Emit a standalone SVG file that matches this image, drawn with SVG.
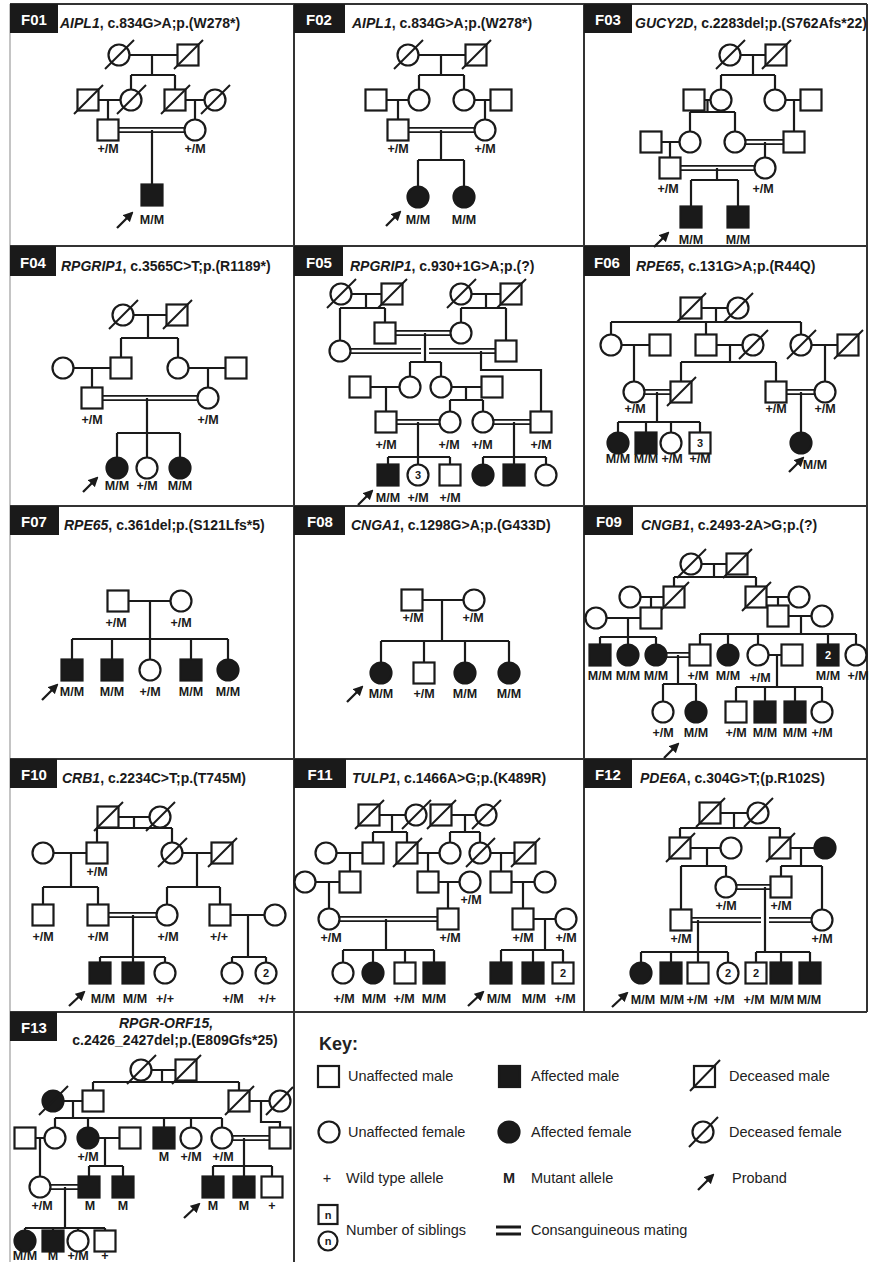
<svg xmlns="http://www.w3.org/2000/svg" width="869" height="1262" viewBox="0 0 869 1262">
<defs>
<style>
.bg{fill:#fff}
.fr{stroke:#333;stroke-width:2;fill:none}
.fl{stroke:#b0b0b0;stroke-width:1.5;fill:none}
.hb{fill:#1a1a1a}
.ht{font-family:"Liberation Sans",Arial,sans-serif;font-weight:bold;font-size:15px;fill:#fff;text-anchor:middle}
.ti{font-family:"Liberation Sans",Arial,sans-serif;font-weight:bold;font-size:14px;fill:#1a1a1a}
.c{fill:none;stroke:#1a1a1a;stroke-width:2.2}
.d{fill:none;stroke:#1a1a1a;stroke-width:1.8}
.n{fill:#fff;stroke:#1a1a1a;stroke-width:2.2}
.a{fill:#1a1a1a;stroke:#1a1a1a;stroke-width:2.2}
.sl{stroke:#1a1a1a;stroke-width:2;fill:none}
.lb{font-family:"Liberation Sans",Arial,sans-serif;font-weight:bold;font-size:12.5px;fill:#1a1a1a;text-anchor:middle}
.nm{font-family:"Liberation Sans",Arial,sans-serif;font-weight:bold;font-size:11px;fill:#1a1a1a;text-anchor:middle}
.nw{font-family:"Liberation Sans",Arial,sans-serif;font-weight:bold;font-size:11px;fill:#fff;text-anchor:middle}
.ar{stroke:#1a1a1a;stroke-width:2.3;fill:none;marker-end:url(#ah)}
.kt{font-family:"Liberation Sans",Arial,sans-serif;font-size:14.5px;fill:#222}
.kb{font-family:"Liberation Sans",Arial,sans-serif;font-weight:bold;font-size:18px;fill:#222}
</style>
<marker id="ah" viewBox="0 0 10 10" refX="8" refY="5" markerWidth="10" markerHeight="10" markerUnits="userSpaceOnUse" orient="auto"><path d="M0,0L10,5L0,10z" fill="#1a1a1a"/></marker>
</defs>
<rect class="bg" x="0" y="0" width="869" height="1262"/>
<g id="frame">
<path class="fl" d="M10,4V1262"/>
<path class="fr" d="M10,4H867M10,246H867M10,506H867M10,759H867M10,1012H867M294,4V1262M584,4V1012M867,4V1012"/>
</g>
<g id="headers">
<rect class="hb" x="10" y="4" width="48" height="29"/><text class="ht" x="34" y="25">F01</text>
<text class="ti" x="60" y="28"><tspan font-style="italic">AIPL1</tspan>, c.834G&gt;A;p.(W278*)</text>
<rect class="hb" x="294" y="4" width="51" height="29"/><text class="ht" x="319" y="25">F02</text>
<text class="ti" x="352" y="28"><tspan font-style="italic">AIPL1</tspan>, c.834G&gt;A;p.(W278*)</text>
<rect class="hb" x="584" y="4" width="48" height="29"/><text class="ht" x="608" y="25">F03</text>
<text class="ti" x="635" y="28"><tspan font-style="italic">GUCY2D</tspan>, c.2283del;p.(S762Afs*22)</text>
<rect class="hb" x="10" y="246" width="46" height="30"/><text class="ht" x="33" y="268">F04</text>
<text class="ti" x="61" y="271"><tspan font-style="italic">RPGRIP1</tspan>, c.3565C&gt;T;p.(R1189*)</text>
<rect class="hb" x="294" y="246" width="49" height="30"/><text class="ht" x="319" y="268">F05</text>
<text class="ti" x="350" y="271"><tspan font-style="italic">RPGRIP1</tspan>, c.930+1G&gt;A;p.(?)</text>
<rect class="hb" x="584" y="246" width="46" height="30"/><text class="ht" x="607" y="268">F06</text>
<text class="ti" x="636" y="271"><tspan font-style="italic">RPE65</tspan>, c.131G&gt;A;p.(R44Q)</text>
<rect class="hb" x="10" y="506" width="49" height="29"/><text class="ht" x="34" y="527">F07</text>
<text class="ti" x="64" y="530"><tspan font-style="italic">RPE65</tspan>, c.361del;p.(S121Lfs*5)</text>
<rect class="hb" x="294" y="506" width="51" height="29"/><text class="ht" x="320" y="527">F08</text>
<text class="ti" x="351" y="530"><tspan font-style="italic">CNGA1</tspan>, c.1298G&gt;A;p.(G433D)</text>
<rect class="hb" x="584" y="506" width="49" height="29"/><text class="ht" x="609" y="527">F09</text>
<text class="ti" x="641" y="530"><tspan font-style="italic">CNGB1</tspan>, c.2493-2A&gt;G;p.(?)</text>
<rect class="hb" x="10" y="759" width="47" height="29"/><text class="ht" x="34" y="780">F10</text>
<text class="ti" x="62" y="783"><tspan font-style="italic">CRB1</tspan>, c.2234C&gt;T;p.(T745M)</text>
<rect class="hb" x="294" y="759" width="52" height="29"/><text class="ht" x="320" y="780">F11</text>
<text class="ti" x="352" y="783"><tspan font-style="italic">TULP1</tspan>, c.1466A&gt;G;p.(K489R)</text>
<rect class="hb" x="584" y="759" width="48" height="29"/><text class="ht" x="608" y="780">F12</text>
<text class="ti" x="640" y="783"><tspan font-style="italic">PDE6A</tspan>, c.304G&gt;T;(p.R102S)</text>
<rect class="hb" x="10" y="1012" width="47" height="29"/><text class="ht" x="34" y="1033">F13</text>
<text class="ti" x="166" y="1028" text-anchor="middle" font-style="italic">RPGR-ORF15,</text>
<text class="ti" x="175" y="1045" text-anchor="middle">c.2426_2427del;p.(E809Gfs*25)</text>
</g>
<g id="connectors">
<path class="c" d="M119,55H188M152,55V75M131,75H175M131,75V100M175,75V100M88,100H131M108,100V130M175,100H215M195,100V130M152,130V195"/>
<path class="d" d="M108,127.8H195M108,132.2H195"/>
<path class="c" d="M408,55H476M441,55V75M419,75H464M419,75V100M464,75V100M376,100H419M398,100V130M464,100H501M485,100V130M441,130V160M418,160H464M418,160V197M464,160V197"/>
<path class="d" d="M398,127.8H485M398,132.2H485"/>
<path class="c" d="M730,55H776M753,55V75M721,75H775M721,75V100M775,75V100M694,100H721M707.5,100V112M690,112H735M690,112V142M735,112V142M775,100H811M794,100V142M651,142H690M670,142V168M765,142V168M717,168V180M691,180H738M691,180V217M738,180V217"/>
<path class="d" d="M735,139.8H794M735,144.2H794M670,165.8H765M670,170.2H765"/>
<path class="c" d="M123,315H177M148,315V338M121,338H178M121,338V368M178,338V368M63,368H121M92,368V398M178,368H236M208,368V398M147,398V433M117,433H180M117,433V468M147,433V468M180,433V468"/>
<path class="d" d="M92,395.8H208M92,400.2H208"/>
<path class="c" d="M341,294H392M366,294V308M340,308H385M340,308V351M385,308V333M461,294H511M486,294V308M461,308H506M461,308V333M506,308V351M425,333V362M410,362H441M410,362V387M441,362V387M481,351V370H541V422M360,387H410M386,387V422M441,387H492M466,387V400M450,400H483M450,400V422M483,400V422M418,422V457M388,457H450M388,457V475M418,457V475M450,457V475M514,422V457M483,457H546M483,457V475M514,457V475M546,457V475"/>
<path class="d" d="M385,330.8H461M385,335.2H461M340,348.8H421M429,348.8H506M340,353.2H421M429,353.2H506M386,419.8H450M386,424.2H450M483,419.8H541M483,424.2H541"/>
<path class="c" d="M691,308H738M716,308V322M611,322H801M611,322V345M706,322V345M801,322V345M611,345H660M634,345V392M706,345H753M730,345V362M681,362H776M681,362V392M776,362V392M801,345H848M825,345V392M657,392V422M618,422H700M618,422V443M646,422V443M671,422V443M700,422V443M801,392V443"/>
<path class="d" d="M634,389.8H681M634,394.2H681M776,389.8H825M776,394.2H825"/>
<path class="c" d="M118,601H181M150,601V639M72,639H228M72,639V670M112,639V670M150,639V670M191,639V670M228,639V670"/>
<path class="c" d="M412,600H474M442,600V641M381,641H509M381,641V673M424,641V673M465,641V673M509,641V673"/>
<path class="c" d="M691,564H737M714,564V577M674,577H756M674,577V597M756,577V597M630,597H674M651,597V618M756,597H799M778,597V616M596,618H651M628,618V637M600,637H656M600,637V655M628,637V655M656,637V655M778,616H822M801,616V634M700,634H856M700,634V655M728,634V655M758,634V655M828,634V655M856,634V655M678,655V684M663,684H696M663,684V712M696,684V712M758,655H792M777,655V687M736,687H822M736,687V712M765,687V712M795,687V712M822,687V712"/>
<path class="d" d="M656,652.8H700M656,657.2H700"/>
<path class="c" d="M108,817H160M134,817V828M97,828H172M97,828V853M172,828V853M43,853H97M71,853V887M43,887H98M43,887V915M98,887V915M172,853H222M197,853V887M167,887H220M167,887V915M220,887V915M133,915V957M100,957H165M100,957V973M133,957V973M165,957V973M220,915H275M248,915V957M232,957H266M232,957V973M266,957V973"/>
<path class="d" d="M98,912.8H167M98,917.2H167"/>
<path class="c" d="M369,815H416M392,815V832M373,832H407M373,832V853M407,832V853M441,815H486M465,815V832M450,832H480M450,832V853M480,832V853M326,853H373M350,853V882M407,853H450M428,853V882M480,853H525M501,853V882M305,882H350M329,882V919M428,882H470M448,882V919M501,882H545M523,882V919M386,919V950M343,950H434M343,950V973M373,950V973M405,950V973M434,950V973M523,919H566M545,919V950M501,950H563M501,950V973M533,950V973M563,950V973"/>
<path class="d" d="M329,916.8H448M329,921.2H448"/>
<path class="c" d="M710,813H758M734,813V828M680,828H780M680,828V848M780,828V848M680,848H731M707,848V866M681,866H726M681,866V920M726,866V887M780,848H825M801,848V866M781,866H822M781,866V887M822,866V920M765,887V952M756,952H810M756,952V973M781,952V973M810,952V973M698,920V952M641,952H728M641,952V973M671,952V973M698,952V973M728,952V973"/>
<path class="d" d="M726,884.8H781M726,889.2H781M681,917.8H761M769,917.8H822M681,922.2H761M769,922.2H822"/>
<path class="c" d="M141,1070H186M162,1070V1082M93,1082H239M93,1082V1101M239,1082V1101M53,1101H93M73,1101V1118M55,1118H222M55,1118V1138M88,1118V1138M164,1118V1138M191,1118V1138M222,1118V1138M239,1101H280M261,1101V1122H280V1138M25,1138H55M40,1138V1187M88,1138H130M105,1138V1166M89,1166H123M89,1166V1187M123,1166V1187M244,1138V1166M213,1166H272M213,1166V1187M244,1166V1187M272,1166V1187M65,1187V1228M25,1228H105M25,1228V1241M53,1228V1241M78,1228V1241M105,1228V1241"/>
<path class="d" d="M222,1135.8H280M222,1140.2H280M40,1184.8H89M40,1189.2H89"/>
<path class="ar" d="M117,228L132,213"/>
<path class="ar" d="M386,226L400,212"/>
<path class="ar" d="M654,247L668,233"/>
<path class="ar" d="M83,492L97,478"/>
<path class="ar" d="M358,505L372,491"/>
<path class="ar" d="M789,472L803,458"/>
<path class="ar" d="M42,700L57,685"/>
<path class="ar" d="M347,702L362,687"/>
<path class="ar" d="M664,758L678,744"/>
<path class="ar" d="M69,1006L84,992"/>
<path class="ar" d="M468,1006L483,992"/>
<path class="ar" d="M612,1007L627,993"/>
<path class="ar" d="M184,1218L199,1204"/>
</g>
<g id="F01">
<g id="F01-I1"><circle class="n" cx="119" cy="55" r="10.5"/><path class="sl" d="M105,69L134,40"/></g>
<g id="F01-I2"><rect class="n" x="177.5" y="44.5" width="21" height="21"/><path class="sl" d="M174,69L203,40"/></g>
<g id="F01-II1"><rect class="n" x="77.5" y="89.5" width="21" height="21"/><path class="sl" d="M74,114L103,85"/></g>
<g id="F01-II2"><circle class="n" cx="131" cy="100" r="10.5"/><path class="sl" d="M117,114L146,85"/></g>
<g id="F01-II3"><rect class="n" x="164.5" y="89.5" width="21" height="21"/><path class="sl" d="M161,114L190,85"/></g>
<g id="F01-II4"><circle class="n" cx="215" cy="100" r="10.5"/><path class="sl" d="M201,114L230,85"/></g>
<g id="F01-III1"><rect class="n" x="97.5" y="119.5" width="21" height="21"/><text class="lb" x="108" y="153">+/M</text></g>
<g id="F01-III2"><circle class="n" cx="195" cy="130" r="10.5"/><text class="lb" x="195" y="153">+/M</text></g>
<g id="F01-IV1"><rect class="a" x="141.5" y="184.5" width="21" height="21"/><text class="lb" x="152" y="224">M/M</text></g>
</g>
<g id="F02">
<g id="F02-I1"><circle class="n" cx="408" cy="55" r="10.5"/><path class="sl" d="M394,69L423,40"/></g>
<g id="F02-I2"><rect class="n" x="465.5" y="44.5" width="21" height="21"/><path class="sl" d="M462,69L491,40"/></g>
<g id="F02-II1"><rect class="n" x="365.5" y="89.5" width="21" height="21"/></g>
<g id="F02-II2"><circle class="n" cx="419" cy="100" r="10.5"/></g>
<g id="F02-II3"><circle class="n" cx="464" cy="100" r="10.5"/></g>
<g id="F02-II4"><rect class="n" x="490.5" y="89.5" width="21" height="21"/></g>
<g id="F02-III1"><rect class="n" x="387.5" y="119.5" width="21" height="21"/><text class="lb" x="398" y="153">+/M</text></g>
<g id="F02-III2"><circle class="n" cx="485" cy="130" r="10.5"/><text class="lb" x="485" y="153">+/M</text></g>
<g id="F02-IV1"><circle class="a" cx="418" cy="197" r="10.5"/><text class="lb" x="418" y="224">M/M</text></g>
<g id="F02-IV2"><circle class="a" cx="464" cy="197" r="10.5"/><text class="lb" x="464" y="224">M/M</text></g>
</g>
<g id="F03">
<g id="F03-I1"><circle class="n" cx="730" cy="55" r="10.5"/><path class="sl" d="M716,69L745,40"/></g>
<g id="F03-I2"><rect class="n" x="765.5" y="44.5" width="21" height="21"/><path class="sl" d="M762,69L791,40"/></g>
<g id="F03-II1"><rect class="n" x="683.5" y="89.5" width="21" height="21"/></g>
<g id="F03-II2"><circle class="n" cx="721" cy="100" r="10.5"/></g>
<g id="F03-II3"><circle class="n" cx="775" cy="100" r="10.5"/></g>
<g id="F03-II4"><rect class="n" x="800.5" y="89.5" width="21" height="21"/></g>
<g id="F03-III1"><rect class="n" x="640.5" y="131.5" width="21" height="21"/></g>
<g id="F03-III2"><circle class="n" cx="690" cy="142" r="10.5"/></g>
<g id="F03-III3"><circle class="n" cx="735" cy="142" r="10.5"/></g>
<g id="F03-III4"><rect class="n" x="783.5" y="131.5" width="21" height="21"/></g>
<g id="F03-IV1"><rect class="n" x="659.5" y="157.5" width="21" height="21"/><text class="lb" x="668" y="193">+/M</text></g>
<g id="F03-IV2"><circle class="n" cx="765" cy="168" r="10.5"/><text class="lb" x="763" y="193">+/M</text></g>
<g id="F03-V1"><rect class="a" x="680.5" y="206.5" width="21" height="21"/><text class="lb" x="691" y="244">M/M</text></g>
<g id="F03-V2"><rect class="a" x="727.5" y="206.5" width="21" height="21"/><text class="lb" x="738" y="244">M/M</text></g>
</g>
<g id="F04">
<g id="F04-I1"><circle class="n" cx="123" cy="315" r="10.5"/><path class="sl" d="M109,329L138,300"/></g>
<g id="F04-I2"><rect class="n" x="166.5" y="304.5" width="21" height="21"/><path class="sl" d="M163,329L192,300"/></g>
<g id="F04-II1"><circle class="n" cx="63" cy="368" r="10.5"/></g>
<g id="F04-II2"><rect class="n" x="110.5" y="357.5" width="21" height="21"/></g>
<g id="F04-II3"><circle class="n" cx="178" cy="368" r="10.5"/></g>
<g id="F04-II4"><rect class="n" x="225.5" y="357.5" width="21" height="21"/></g>
<g id="F04-III1"><rect class="n" x="81.5" y="387.5" width="21" height="21"/><text class="lb" x="92" y="424">+/M</text></g>
<g id="F04-III2"><circle class="n" cx="208" cy="398" r="10.5"/><text class="lb" x="208" y="424">+/M</text></g>
<g id="F04-IV1"><circle class="a" cx="117" cy="468" r="10.5"/><text class="lb" x="117" y="490">M/M</text></g>
<g id="F04-IV2"><circle class="n" cx="147" cy="468" r="10.5"/><text class="lb" x="147" y="490">+/M</text></g>
<g id="F04-IV3"><circle class="a" cx="180" cy="468" r="10.5"/><text class="lb" x="180" y="490">M/M</text></g>
</g>
<g id="F05">
<g id="F05-I1"><circle class="n" cx="341" cy="294" r="10.5"/><path class="sl" d="M327,308L356,279"/></g>
<g id="F05-I2"><rect class="n" x="381.5" y="283.5" width="21" height="21"/><path class="sl" d="M378,308L407,279"/></g>
<g id="F05-I3"><circle class="n" cx="461" cy="294" r="10.5"/><path class="sl" d="M447,308L476,279"/></g>
<g id="F05-I4"><rect class="n" x="500.5" y="283.5" width="21" height="21"/><path class="sl" d="M497,308L526,279"/></g>
<g id="F05-II1"><rect class="n" x="374.5" y="322.5" width="21" height="21"/></g>
<g id="F05-II2"><circle class="n" cx="461" cy="333" r="10.5"/></g>
<g id="F05-II3"><circle class="n" cx="340" cy="351" r="10.5"/></g>
<g id="F05-II4"><rect class="n" x="495.5" y="340.5" width="21" height="21"/></g>
<g id="F05-III1"><rect class="n" x="349.5" y="376.5" width="21" height="21"/></g>
<g id="F05-III2"><circle class="n" cx="410" cy="387" r="10.5"/></g>
<g id="F05-III3"><circle class="n" cx="441" cy="387" r="10.5"/></g>
<g id="F05-III4"><rect class="n" x="481.5" y="376.5" width="21" height="21"/></g>
<g id="F05-IV1"><rect class="n" x="375.5" y="411.5" width="21" height="21"/><text class="lb" x="386" y="449">+/M</text></g>
<g id="F05-IV2"><circle class="n" cx="450" cy="422" r="10.5"/><text class="lb" x="449" y="449">+/M</text></g>
<g id="F05-IV3"><circle class="n" cx="483" cy="422" r="10.5"/><text class="lb" x="482" y="449">+/M</text></g>
<g id="F05-IV4"><rect class="n" x="530.5" y="411.5" width="21" height="21"/><text class="lb" x="541" y="449">+/M</text></g>
<g id="F05-V1"><rect class="a" x="377.5" y="464.5" width="21" height="21"/><text class="lb" x="388" y="502">M/M</text></g>
<g id="F05-V2"><circle class="n" cx="418" cy="475" r="10.5"/><text class="nm" x="418" y="479">3</text><text class="lb" x="418" y="502">+/M</text></g>
<g id="F05-V3"><rect class="n" x="439.5" y="464.5" width="21" height="21"/><text class="lb" x="450" y="502">+/M</text></g>
<g id="F05-V4"><circle class="a" cx="483" cy="475" r="10.5"/></g>
<g id="F05-V5"><rect class="a" x="503.5" y="464.5" width="21" height="21"/></g>
<g id="F05-V6"><circle class="n" cx="546" cy="475" r="10.5"/></g>
</g>
<g id="F06">
<g id="F06-I1"><rect class="n" x="680.5" y="297.5" width="21" height="21"/><path class="sl" d="M677,322L706,293"/></g>
<g id="F06-I2"><circle class="n" cx="738" cy="308" r="10.5"/><path class="sl" d="M724,322L753,293"/></g>
<g id="F06-II1"><circle class="n" cx="611" cy="345" r="10.5"/></g>
<g id="F06-II2"><rect class="n" x="649.5" y="334.5" width="21" height="21"/></g>
<g id="F06-II3"><rect class="n" x="695.5" y="334.5" width="21" height="21"/></g>
<g id="F06-II4"><circle class="n" cx="753" cy="345" r="10.5"/><path class="sl" d="M739,359L768,330"/></g>
<g id="F06-II5"><circle class="n" cx="801" cy="345" r="10.5"/><path class="sl" d="M787,359L816,330"/></g>
<g id="F06-II6"><rect class="n" x="837.5" y="334.5" width="21" height="21"/><path class="sl" d="M834,359L863,330"/></g>
<g id="F06-III1"><circle class="n" cx="634" cy="392" r="10.5"/><text class="lb" x="635" y="413">+/M</text></g>
<g id="F06-III2"><rect class="n" x="670.5" y="381.5" width="21" height="21"/><path class="sl" d="M667,406L696,377"/></g>
<g id="F06-III3"><rect class="n" x="765.5" y="381.5" width="21" height="21"/><text class="lb" x="776" y="413">+/M</text></g>
<g id="F06-III4"><circle class="n" cx="825" cy="392" r="10.5"/><text class="lb" x="825" y="413">+/M</text></g>
<g id="F06-IV1"><circle class="a" cx="618" cy="443" r="10.5"/><text class="lb" x="618" y="463">M/M</text></g>
<g id="F06-IV2"><rect class="a" x="635.5" y="432.5" width="21" height="21"/><text class="lb" x="646" y="463">M/M</text></g>
<g id="F06-IV3"><circle class="n" cx="671" cy="443" r="10.5"/><text class="lb" x="672" y="463">+/M</text></g>
<g id="F06-IV4"><rect class="n" x="689.5" y="432.5" width="21" height="21"/><text class="nm" x="700" y="447">3</text><text class="lb" x="700" y="463">+/M</text></g>
<g id="F06-IV5"><circle class="a" cx="801" cy="443" r="10.5"/><text class="lb" x="815" y="469">M/M</text></g>
</g>
<g id="F07">
<g id="F07-I1"><rect class="n" x="107.5" y="590.5" width="21" height="21"/><text class="lb" x="116" y="627">+/M</text></g>
<g id="F07-I2"><circle class="n" cx="181" cy="601" r="10.5"/><text class="lb" x="181" y="627">+/M</text></g>
<g id="F07-II1"><rect class="a" x="61.5" y="659.5" width="21" height="21"/><text class="lb" x="72" y="696">M/M</text></g>
<g id="F07-II2"><rect class="a" x="101.5" y="659.5" width="21" height="21"/><text class="lb" x="112" y="696">M/M</text></g>
<g id="F07-II3"><circle class="n" cx="150" cy="670" r="10.5"/><text class="lb" x="150" y="696">+/M</text></g>
<g id="F07-II4"><rect class="a" x="180.5" y="659.5" width="21" height="21"/><text class="lb" x="191" y="696">M/M</text></g>
<g id="F07-II5"><circle class="a" cx="228" cy="670" r="10.5"/><text class="lb" x="228" y="696">M/M</text></g>
</g>
<g id="F08">
<g id="F08-I1"><rect class="n" x="401.5" y="589.5" width="21" height="21"/><text class="lb" x="413" y="622">+/M</text></g>
<g id="F08-I2"><circle class="n" cx="474" cy="600" r="10.5"/><text class="lb" x="473" y="622">+/M</text></g>
<g id="F08-II1"><circle class="a" cx="381" cy="673" r="10.5"/><text class="lb" x="381" y="698">M/M</text></g>
<g id="F08-II2"><rect class="n" x="413.5" y="662.5" width="21" height="21"/><text class="lb" x="424" y="698">+/M</text></g>
<g id="F08-II3"><circle class="a" cx="465" cy="673" r="10.5"/><text class="lb" x="465" y="698">M/M</text></g>
<g id="F08-II4"><circle class="a" cx="509" cy="673" r="10.5"/><text class="lb" x="509" y="698">M/M</text></g>
</g>
<g id="F09">
<g id="F09-I1"><circle class="n" cx="691" cy="564" r="10.5"/><path class="sl" d="M677,578L706,549"/></g>
<g id="F09-I2"><rect class="n" x="726.5" y="553.5" width="21" height="21"/><path class="sl" d="M723,578L752,549"/></g>
<g id="F09-II1"><circle class="n" cx="630" cy="597" r="10.5"/></g>
<g id="F09-II2"><rect class="n" x="663.5" y="586.5" width="21" height="21"/><path class="sl" d="M660,611L689,582"/></g>
<g id="F09-II3"><rect class="n" x="745.5" y="586.5" width="21" height="21"/><path class="sl" d="M742,611L771,582"/></g>
<g id="F09-II4"><circle class="n" cx="799" cy="597" r="10.5"/></g>
<g id="F09-III1"><circle class="n" cx="596" cy="618" r="10.5"/></g>
<g id="F09-III2"><rect class="n" x="640.5" y="607.5" width="21" height="21"/></g>
<g id="F09-III3"><rect class="n" x="767.5" y="605.5" width="21" height="21"/></g>
<g id="F09-III4"><circle class="n" cx="822" cy="616" r="10.5"/></g>
<g id="F09-IV1"><rect class="a" x="589.5" y="644.5" width="21" height="21"/><text class="lb" x="600" y="680">M/M</text></g>
<g id="F09-IV2"><circle class="a" cx="628" cy="655" r="10.5"/><text class="lb" x="628" y="680">M/M</text></g>
<g id="F09-IV3"><circle class="a" cx="656" cy="655" r="10.5"/><text class="lb" x="656" y="680">M/M</text></g>
<g id="F09-IV4"><rect class="n" x="689.5" y="644.5" width="21" height="21"/><text class="lb" x="698" y="680">+/M</text></g>
<g id="F09-IV5"><circle class="a" cx="728" cy="655" r="10.5"/><text class="lb" x="728" y="680">M/M</text></g>
<g id="F09-IV6"><circle class="n" cx="758" cy="655" r="10.5"/><text class="lb" x="760" y="682">+/M</text></g>
<g id="F09-IV7"><rect class="n" x="781.5" y="644.5" width="21" height="21"/></g>
<g id="F09-IV8"><rect class="a" x="817.5" y="644.5" width="21" height="21"/><text class="nw" x="828" y="659">2</text><text class="lb" x="828" y="680">M/M</text></g>
<g id="F09-IV9"><circle class="n" cx="856" cy="655" r="10.5"/><text class="lb" x="858" y="680">+/M</text></g>
<g id="F09-V1"><circle class="n" cx="663" cy="712" r="10.5"/><text class="lb" x="663" y="737">+/M</text></g>
<g id="F09-V2"><circle class="a" cx="696" cy="712" r="10.5"/><text class="lb" x="696" y="737">M/M</text></g>
<g id="F09-V3"><rect class="n" x="725.5" y="701.5" width="21" height="21"/><text class="lb" x="736" y="737">+/M</text></g>
<g id="F09-V4"><rect class="a" x="754.5" y="701.5" width="21" height="21"/><text class="lb" x="765" y="737">M/M</text></g>
<g id="F09-V5"><rect class="a" x="784.5" y="701.5" width="21" height="21"/><text class="lb" x="795" y="737">M/M</text></g>
<g id="F09-V6"><circle class="n" cx="822" cy="712" r="10.5"/><text class="lb" x="822" y="737">+/M</text></g>
</g>
<g id="F10">
<g id="F10-I1"><rect class="n" x="97.5" y="806.5" width="21" height="21"/><path class="sl" d="M94,831L123,802"/></g>
<g id="F10-I2"><circle class="n" cx="160" cy="817" r="10.5"/><path class="sl" d="M146,831L175,802"/></g>
<g id="F10-II1"><circle class="n" cx="43" cy="853" r="10.5"/></g>
<g id="F10-II2"><rect class="n" x="86.5" y="842.5" width="21" height="21"/><text class="lb" x="97" y="876">+/M</text></g>
<g id="F10-II3"><circle class="n" cx="172" cy="853" r="10.5"/><path class="sl" d="M158,867L187,838"/></g>
<g id="F10-II4"><rect class="n" x="211.5" y="842.5" width="21" height="21"/><path class="sl" d="M208,867L237,838"/></g>
<g id="F10-III1"><rect class="n" x="32.5" y="904.5" width="21" height="21"/><text class="lb" x="43" y="941">+/M</text></g>
<g id="F10-III2"><rect class="n" x="87.5" y="904.5" width="21" height="21"/><text class="lb" x="98" y="941">+/M</text></g>
<g id="F10-III3"><circle class="n" cx="167" cy="915" r="10.5"/><text class="lb" x="168" y="941">+/M</text></g>
<g id="F10-III4"><rect class="n" x="209.5" y="904.5" width="21" height="21"/><text class="lb" x="219" y="941">+/+</text></g>
<g id="F10-III5"><circle class="n" cx="275" cy="915" r="10.5"/></g>
<g id="F10-IV1"><rect class="a" x="89.5" y="962.5" width="21" height="21"/><text class="lb" x="103" y="1003">M/M</text></g>
<g id="F10-IV2"><rect class="a" x="122.5" y="962.5" width="21" height="21"/><text class="lb" x="135" y="1003">M/M</text></g>
<g id="F10-IV3"><circle class="n" cx="165" cy="973" r="10.5"/><text class="lb" x="165" y="1003">+/+</text></g>
<g id="F10-IV4"><circle class="n" cx="232" cy="973" r="10.5"/><text class="lb" x="233" y="1003">+/M</text></g>
<g id="F10-IV5"><circle class="n" cx="266" cy="973" r="10.5"/><text class="nm" x="266" y="977">2</text><text class="lb" x="267" y="1003">+/+</text></g>
</g>
<g id="F11">
<g id="F11-I1"><rect class="n" x="358.5" y="804.5" width="21" height="21"/><path class="sl" d="M355,829L384,800"/></g>
<g id="F11-I2"><circle class="n" cx="416" cy="815" r="10.5"/><path class="sl" d="M402,829L431,800"/></g>
<g id="F11-I3"><rect class="n" x="430.5" y="804.5" width="21" height="21"/><path class="sl" d="M427,829L456,800"/></g>
<g id="F11-I4"><circle class="n" cx="486" cy="815" r="10.5"/><path class="sl" d="M472,829L501,800"/></g>
<g id="F11-II1"><circle class="n" cx="326" cy="853" r="10.5"/></g>
<g id="F11-II2"><rect class="n" x="362.5" y="842.5" width="21" height="21"/></g>
<g id="F11-II3"><rect class="n" x="396.5" y="842.5" width="21" height="21"/><path class="sl" d="M393,867L422,838"/></g>
<g id="F11-II4"><circle class="n" cx="450" cy="853" r="10.5"/></g>
<g id="F11-II5"><circle class="n" cx="480" cy="853" r="10.5"/><path class="sl" d="M466,867L495,838"/></g>
<g id="F11-II6"><rect class="n" x="514.5" y="842.5" width="21" height="21"/><path class="sl" d="M511,867L540,838"/></g>
<g id="F11-III1"><circle class="n" cx="305" cy="882" r="10.5"/></g>
<g id="F11-III2"><rect class="n" x="339.5" y="871.5" width="21" height="21"/></g>
<g id="F11-III3"><rect class="n" x="417.5" y="871.5" width="21" height="21"/></g>
<g id="F11-III4"><circle class="n" cx="470" cy="882" r="10.5"/><text class="lb" x="471" y="904">+/M</text></g>
<g id="F11-III5"><rect class="n" x="490.5" y="871.5" width="21" height="21"/></g>
<g id="F11-III6"><circle class="n" cx="545" cy="882" r="10.5"/></g>
<g id="F11-IV1"><circle class="n" cx="329" cy="919" r="10.5"/><text class="lb" x="331" y="942">+/M</text></g>
<g id="F11-IV2"><rect class="n" x="437.5" y="908.5" width="21" height="21"/><text class="lb" x="450" y="942">+/M</text></g>
<g id="F11-IV3"><rect class="n" x="512.5" y="908.5" width="21" height="21"/><text class="lb" x="523" y="942">+/M</text></g>
<g id="F11-IV4"><circle class="n" cx="566" cy="919" r="10.5"/><text class="lb" x="566" y="942">+/M</text></g>
<g id="F11-V1"><circle class="n" cx="343" cy="973" r="10.5"/><text class="lb" x="344" y="1003">+/M</text></g>
<g id="F11-V2"><circle class="a" cx="373" cy="973" r="10.5"/><text class="lb" x="374" y="1003">M/M</text></g>
<g id="F11-V3"><rect class="n" x="394.5" y="962.5" width="21" height="21"/><text class="lb" x="404" y="1003">+/M</text></g>
<g id="F11-V4"><rect class="a" x="423.5" y="962.5" width="21" height="21"/><text class="lb" x="434" y="1003">M/M</text></g>
<g id="F11-V5"><rect class="a" x="490.5" y="962.5" width="21" height="21"/><text class="lb" x="499" y="1003">M/M</text></g>
<g id="F11-V6"><rect class="a" x="522.5" y="962.5" width="21" height="21"/><text class="lb" x="534" y="1003">M/M</text></g>
<g id="F11-V7"><rect class="n" x="552.5" y="962.5" width="21" height="21"/><text class="nm" x="563" y="977">2</text><text class="lb" x="565" y="1003">+/M</text></g>
</g>
<g id="F12">
<g id="F12-I1"><rect class="n" x="699.5" y="802.5" width="21" height="21"/><path class="sl" d="M696,827L725,798"/></g>
<g id="F12-I2"><circle class="n" cx="758" cy="813" r="10.5"/><path class="sl" d="M744,827L773,798"/></g>
<g id="F12-II1"><rect class="n" x="669.5" y="837.5" width="21" height="21"/><path class="sl" d="M666,862L695,833"/></g>
<g id="F12-II2"><circle class="n" cx="731" cy="848" r="10.5"/></g>
<g id="F12-II3"><rect class="n" x="769.5" y="837.5" width="21" height="21"/><path class="sl" d="M766,862L795,833"/></g>
<g id="F12-II4"><circle class="a" cx="825" cy="848" r="10.5"/></g>
<g id="F12-III1"><circle class="n" cx="726" cy="887" r="10.5"/><text class="lb" x="726" y="910">+/M</text></g>
<g id="F12-III2"><rect class="n" x="770.5" y="876.5" width="21" height="21"/><text class="lb" x="781" y="910">+/M</text></g>
<g id="F12-IV1"><rect class="n" x="670.5" y="909.5" width="21" height="21"/><text class="lb" x="681" y="943">+/M</text></g>
<g id="F12-IV2"><circle class="n" cx="822" cy="920" r="10.5"/><text class="lb" x="822" y="943">+/M</text></g>
<g id="F12-V1"><circle class="a" cx="641" cy="973" r="10.5"/><text class="lb" x="643" y="1004">M/M</text></g>
<g id="F12-V2"><rect class="a" x="660.5" y="962.5" width="21" height="21"/><text class="lb" x="672" y="1004">M/M</text></g>
<g id="F12-V3"><rect class="n" x="687.5" y="962.5" width="21" height="21"/><text class="lb" x="697" y="1004">+/M</text></g>
<g id="F12-V4"><circle class="n" cx="728" cy="973" r="10.5"/><text class="nm" x="728" y="977">2</text><text class="lb" x="724" y="1004">+/M</text></g>
<g id="F12-V5"><rect class="n" x="745.5" y="962.5" width="21" height="21"/><text class="nm" x="756" y="977">2</text><text class="lb" x="754" y="1004">+/M</text></g>
<g id="F12-V6"><rect class="a" x="770.5" y="962.5" width="21" height="21"/><text class="lb" x="782" y="1004">M/M</text></g>
<g id="F12-V7"><rect class="a" x="799.5" y="962.5" width="21" height="21"/><text class="lb" x="809" y="1004">M/M</text></g>
</g>
<g id="F13">
<g id="F13-I1"><circle class="n" cx="141" cy="1070" r="10.5"/><path class="sl" d="M127,1084L156,1055"/></g>
<g id="F13-I2"><rect class="n" x="175.5" y="1059.5" width="21" height="21"/><path class="sl" d="M172,1084L201,1055"/></g>
<g id="F13-II1"><circle class="a" cx="53" cy="1101" r="10.5"/><path class="sl" d="M39,1115L68,1086"/></g>
<g id="F13-II2"><rect class="n" x="82.5" y="1090.5" width="21" height="21"/></g>
<g id="F13-II3"><rect class="n" x="228.5" y="1090.5" width="21" height="21"/><path class="sl" d="M225,1115L254,1086"/></g>
<g id="F13-II4"><circle class="n" cx="280" cy="1101" r="10.5"/><path class="sl" d="M266,1115L293,1087"/></g>
<g id="F13-III1"><rect class="n" x="14.5" y="1127.5" width="21" height="21"/></g>
<g id="F13-III2"><circle class="n" cx="55" cy="1138" r="10.5"/></g>
<g id="F13-III3"><circle class="a" cx="88" cy="1138" r="10.5"/><text class="lb" x="88" y="1161">+/M</text></g>
<g id="F13-III4"><rect class="n" x="119.5" y="1127.5" width="21" height="21"/></g>
<g id="F13-III5"><rect class="a" x="153.5" y="1127.5" width="21" height="21"/><text class="lb" x="164" y="1161">M</text></g>
<g id="F13-III6"><circle class="n" cx="191" cy="1138" r="10.5"/><text class="lb" x="191" y="1161">+/M</text></g>
<g id="F13-III7"><circle class="n" cx="222" cy="1138" r="10.5"/><text class="lb" x="223" y="1161">+/M</text></g>
<g id="F13-III8"><rect class="n" x="269.5" y="1127.5" width="21" height="21"/></g>
<g id="F13-IV1"><circle class="n" cx="40" cy="1187" r="10.5"/><text class="lb" x="42" y="1210">+/M</text></g>
<g id="F13-IV2"><rect class="a" x="78.5" y="1176.5" width="21" height="21"/><text class="lb" x="90" y="1210">M</text></g>
<g id="F13-IV3"><rect class="a" x="112.5" y="1176.5" width="21" height="21"/><text class="lb" x="123" y="1210">M</text></g>
<g id="F13-IV4"><rect class="a" x="202.5" y="1176.5" width="21" height="21"/><text class="lb" x="213" y="1210">M</text></g>
<g id="F13-IV5"><rect class="a" x="233.5" y="1176.5" width="21" height="21"/><text class="lb" x="244" y="1210">M</text></g>
<g id="F13-IV6"><rect class="n" x="261.5" y="1176.5" width="21" height="21"/><text class="lb" x="272" y="1210">+</text></g>
<g id="F13-V1"><circle class="a" cx="25" cy="1241" r="10.5"/><text class="lb" x="25" y="1260">M/M</text></g>
<g id="F13-V2"><rect class="a" x="42.5" y="1230.5" width="21" height="21"/><text class="lb" x="53" y="1260">M</text></g>
<g id="F13-V3"><circle class="n" cx="78" cy="1241" r="10.5"/><text class="lb" x="78" y="1260">+/M</text></g>
<g id="F13-V4"><rect class="n" x="94.5" y="1230.5" width="21" height="21"/><text class="lb" x="105" y="1260">+</text></g>
</g>
<g id="key">
<text class="kb" x="319" y="1050">Key:</text>
<g id="key-um"><rect class="n" x="318" y="1066" width="21" height="21"/><text class="kt" x="348" y="1081">Unaffected male</text></g>
<g id="key-am"><rect class="a" x="499" y="1066" width="21" height="21"/><text class="kt" x="531" y="1081">Affected male</text></g>
<g id="key-dm"><rect class="n" x="694" y="1066" width="21" height="21"/><path class="sl" d="M690,1091L720,1060"/><text class="kt" x="729" y="1081">Deceased male</text></g>
<g id="key-uf"><circle class="n" cx="329" cy="1132" r="10.5"/><text class="kt" x="348" y="1137">Unaffected female</text></g>
<g id="key-af"><circle class="a" cx="509" cy="1132" r="10.5"/><text class="kt" x="531" y="1137">Affected female</text></g>
<g id="key-df"><circle class="n" cx="703" cy="1132" r="10.5"/><path class="sl" d="M689,1147L718,1117"/><text class="kt" x="729" y="1137">Deceased female</text></g>
<g id="key-wt"><text class="kt" x="327" y="1183" text-anchor="middle">+</text><text class="kt" x="346" y="1183">Wild type allele</text></g>
<g id="key-mu"><text class="kt" x="509" y="1183" text-anchor="middle" font-weight="bold">M</text><text class="kt" x="531" y="1183">Mutant allele</text></g>
<g id="key-pr"><path class="ar" d="M698,1190L713,1175"/><text class="kt" x="732" y="1183">Proband</text></g>
<g id="key-ns"><rect class="n" x="318.5" y="1205" width="19" height="19"/><text class="nm" x="328" y="1219">n</text><circle class="n" cx="328" cy="1241" r="9.5"/><text class="nm" x="328" y="1245">n</text><text class="kt" x="346" y="1235">Number of siblings</text></g>
<g id="key-cm"><path stroke="#1a1a1a" stroke-width="3" d="M496,1227H521M496,1234H521"/><text class="kt" x="531" y="1235">Consanguineous mating</text></g>
</g>
</svg>
